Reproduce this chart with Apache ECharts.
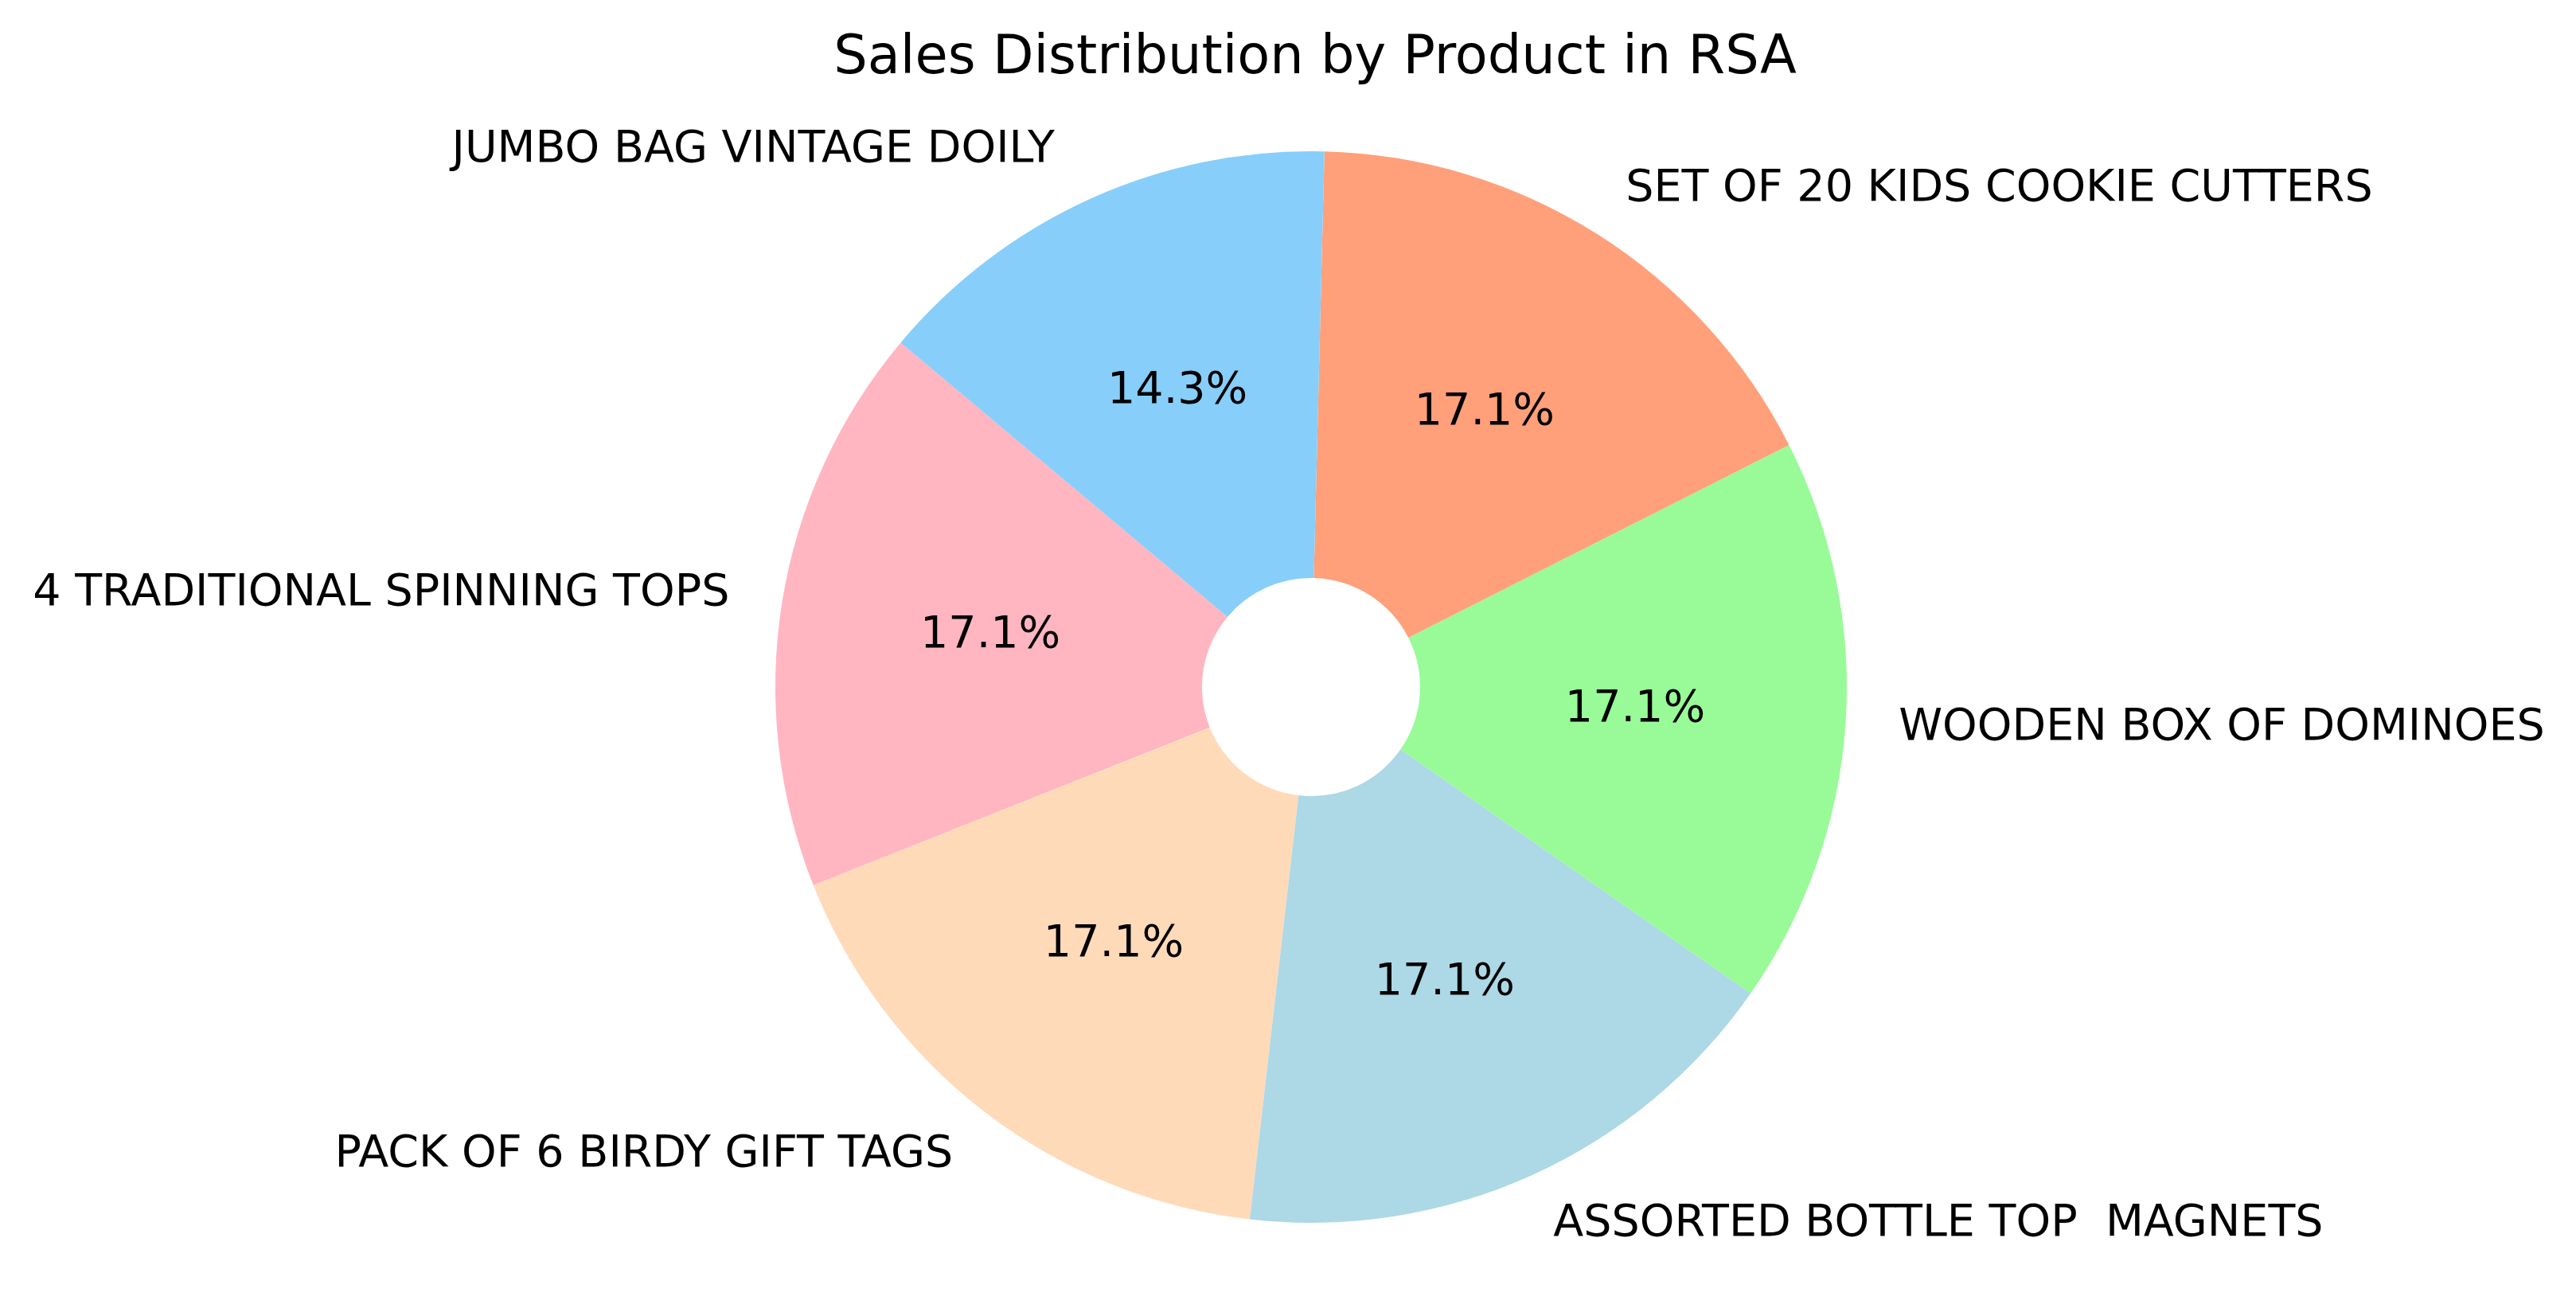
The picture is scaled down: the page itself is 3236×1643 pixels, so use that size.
<!DOCTYPE html>
<html>
<head>
<meta charset="utf-8">
<title>Sales Distribution by Product in RSA</title>
<script src="https://cdn.jsdelivr.net/npm/echarts@6/dist/echarts.min.js"></script>
<style>
  html, body { margin: 0; padding: 0; background: #fff; }
  #chart { width: 3236px; height: 1643px; }
</style>
</head>
<body>
<div id="chart"></div>
<script>
    // data, in the order the wedges are drawn (counter-clockwise from 140 deg)
    var products = [
        '4 TRADITIONAL SPINNING TOPS',
        'PACK OF 6 BIRDY GIFT TAGS',
        'ASSORTED BOTTLE TOP  MAGNETS',
        'WOODEN BOX OF DOMINOES',
        'SET OF 20 KIDS COOKIE CUTTERS',
        'JUMBO BAG VINTAGE DOILY '
    ];
    var sales = [6, 6, 6, 6, 6, 5];
    var colors = ['#FFB6C1', '#FFDAB9', '#ADD8E6', '#98FB98', '#FFA07A', '#87CEFA'];

    var total = sales.reduce(function (a, b) { return a + b; }, 0);
    var pieData = products.map(function (name, i) {
        return { name: name, value: sales[i], itemStyle: { color: colors[i] } };
    });

    var center = [1647, 863];
    var radius = [137, 673];
    var font = 'DejaVu Sans';

    var myChart = echarts.init(document.getElementById('chart'));
    var option = {
        backgroundColor: '#fff',
        animation: false,
        title: {
            text: 'Sales Distribution by Product in RSA',
            left: center[0],
            textAlign: 'center',
            top: 36,
            textStyle: { fontFamily: font, fontSize: 67, fontWeight: 'normal', color: '#000' }
        },
        series: [
            {
                // wedges + product names outside
                type: 'pie',
                center: center,
                radius: radius,
                startAngle: 140,
                clockwise: false,
                avoidLabelOverlap: false,
                itemStyle: { borderWidth: 0 },
                emphasis: { disabled: true },
                label: {
                    position: 'outside',
                    distanceToLabelLine: 0,
                    padding: [8, 0, 0, 0],
                    fontFamily: font,
                    fontSize: 55.5,
                    color: '#000',
                    formatter: '{b}'
                },
                labelLine: { show: false, length: 67, length2: 0 },
                data: pieData
            },
            {
                // percentages inside
                type: 'pie',
                center: center,
                radius: radius,
                startAngle: 140,
                clockwise: false,
                silent: true,
                itemStyle: { color: 'transparent', borderWidth: 0 },
                label: {
                    position: 'inside',
                    padding: [8, 0, 0, 0],
                    fontFamily: font,
                    fontSize: 55.5,
                    color: '#000',
                    formatter: function (p) {
                        return (p.value / total * 100).toFixed(1) + '%';
                    }
                },
                labelLine: { show: false },
                data: products.map(function (name, i) { return { name: name, value: sales[i] }; })
            }
        ]
    };
    myChart.setOption(option);
</script>
</body>
</html>
